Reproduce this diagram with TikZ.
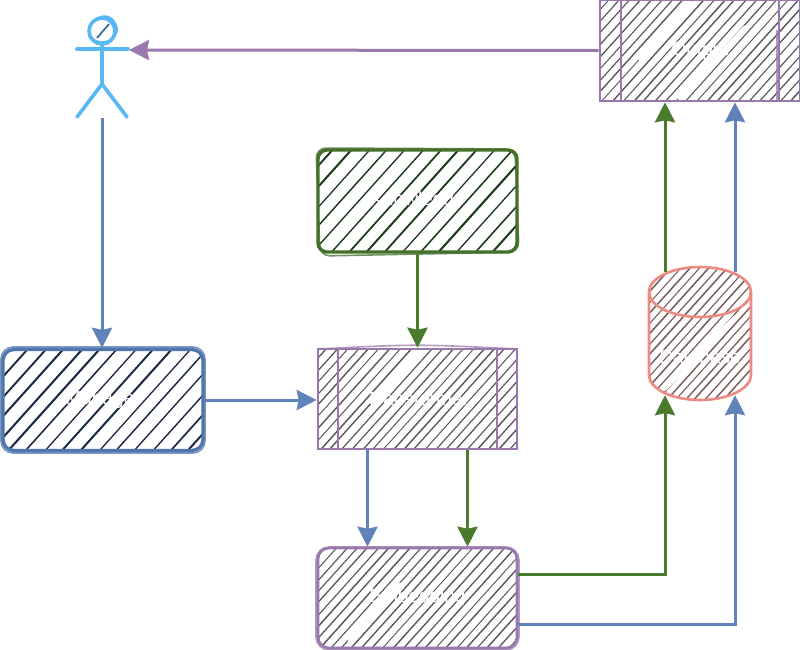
\documentclass[tikz,border=0pt]{standalone}
\usepackage{fontspec}
\setmainfont{Liberation Sans}
\usetikzlibrary{arrows.meta,calc}
\definecolor{cblue}{HTML}{5F83B8}
\definecolor{cblueb}{HTML}{4F75AD}
\definecolor{cgreen}{HTML}{4A7A2C}
\definecolor{cgreenb}{HTML}{44702A}
\definecolor{cpurple}{HTML}{9A78AE}
\definecolor{cred}{HTML}{EE8A84}
\definecolor{cactor}{HTML}{58B8F4}
\definecolor{hblue}{HTML}{1B2A42}
\definecolor{hgreen}{HTML}{1E3A1C}
\definecolor{hpurple}{HTML}{5A5660}
\definecolor{hred}{HTML}{7A5A5A}
\newcommand\hatchlines[3]{%
  \pgfmathsetseed{7}%
  \foreach \k in {0,...,#2}{%
    \pgfmathsetmacro\cc{\k*#3+rnd*1.4-0.7}%
    \pgfmathsetmacro\dd{\cc-584+rnd*1.6-0.8}%
    \pgfmathsetmacro\ww{#1*(0.75+0.5*rnd)}%
    \draw[hatchline,line width=\ww pt] (\cc,0) -- (\dd,649);%
  }%
}
\tikzset{
  x=1pt,y=-1pt,
  hatchline/.style={line cap=round},
  gapband/.style={white,line width=5pt,line cap=round},
  boxlabel/.style={text=white,font=\fontsize{19}{21}\selectfont,inner sep=0pt,align=center},
  bluebox/.style={boxlabel,draw=cblueb,line width=3.4pt,rounded corners=11pt,minimum width=200pt,minimum height=101pt},
  greenbox/.style={boxlabel,draw=cgreenb,line width=3.4pt,rounded corners=9pt,minimum width=199pt,minimum height=102pt},
  purplebox/.style={boxlabel,draw=cpurple,line width=2.6pt,minimum width=199pt,minimum height=100pt},
  purpleround/.style={purplebox,rounded corners=11pt},
  sketch/.style={line width=1.6pt,opacity=.75},
  flow/.style={line width=3pt,-{Stealth[length=20pt,width=20pt,inset=2pt]}},
  flowblue/.style={flow,draw=cblue,color=cblue},
  flowgreen/.style={flow,draw=cgreen,color=cgreen},
  flowpurple/.style={flow,draw=cpurple,color=cpurple},
  actorline/.style={draw=cactor,line width=3.6pt,line cap=round,line join=round},
}
\begin{document}
\begin{tikzpicture}
\useasboundingbox[fill=white] (0,0) rectangle (800,649);
% hatch fills
\begin{scope}\clip[rounded corners=11pt] (3,349) rectangle (203,451);\color{hblue}\hatchlines{1.7}{80}{18}\end{scope}
\begin{scope}\clip[rounded corners=9pt] (318,150) rectangle (517,252);\color{hgreen}\hatchlines{1.7}{80}{18}\end{scope}
\begin{scope}\clip (318,349) rectangle (517,449);\color{hpurple}\hatchlines{1.2}{140}{10.5}
  \draw[gapband] (372,402) -- (418,352) (432,447) -- (476,398);\end{scope}
\begin{scope}\clip[rounded corners=11pt] (318,548) rectangle (517,648);\color{hpurple}\hatchlines{1.2}{140}{10.5}
  \draw[gapband] (350,640) -- (400,585);\end{scope}
\begin{scope}\clip (600,0) rectangle (800,101);\color{hpurple}\hatchlines{1.2}{140}{10.5}
  \draw[gapband] (640,58) -- (690,3) (680,98) -- (745,28);\end{scope}
\begin{scope}\clip (649,292) arc[start angle=180,end angle=360,x radius=51,y radius=25] -- (751,375) arc[start angle=0,end angle=180,x radius=51,y radius=25] -- cycle;
\color{hred}\hatchlines{1.3}{140}{9.5}
  \draw[gapband] (665,388) -- (735,318);\end{scope}
% boxes
\node[bluebox] (mgr) at (103,400) {Manager};
\node[greenbox] (know) at (417.5,201) {Knowledge};
\node[purplebox] (trans) at (417.5,399) {Transformer};
\node[purpleround] (emb) at (417.5,598) {Embedding};
\node[purplebox,minimum width=200pt,minimum height=101pt] (out) at (700,50.5) {Output};
\node[boxlabel,minimum width=102pt,minimum height=128pt] (db) at (700,331) {};
\node[boxlabel] (dblabel) at (700,357) {Database};
% sketch strokes
\draw[cblueb,sketch,rounded corners=12pt] (1,347) rectangle (205,453);
\draw[cgreenb,sketch,rounded corners=10pt] (316,148) -- (515,149) -- (519,252) -- (320,256) -- cycle;
\draw[cpurple,sketch] (318,349) .. controls (417,344) .. (517,349);
\draw[cpurple,sketch,rounded corners=13pt] (316,547) rectangle (519,650);
% inner bars
\draw[cpurple,line width=2.6pt] (338,349) -- (338,449) (497,349) -- (497,449);
\draw[cpurple,line width=2.6pt] (621,0) -- (621,101) (779,0) -- (779,101);
\draw[cpurple,sketch] (777,30) -- (777,101);
% cylinder
\draw[cred,line width=2.6pt] (700,292) ellipse[x radius=51,y radius=25];
\draw[cred,line width=2.6pt] (649,292) -- (649,375) arc[start angle=180,end angle=360,x radius=51,y radius=-25] -- (751,292);
% actor
\node[minimum width=52pt,minimum height=103pt,inner sep=0pt] (actor) at (102,66) {};
\coordinate (hand) at (129,50);
\draw[actorline,fill=white] (102,31) circle[radius=13];
\draw[actorline,line width=2.2pt] (90,25) .. controls (100,12) and (114,14) .. (117,29) .. controls (116,43) and (98,47) .. (89,36) -- cycle;
\draw[hblue!55!cactor,line width=1.7pt] (97,38) -- (109,24);
\draw[actorline] (77,49) -- (128,49);
\draw[actorline] (102,44) -- (102,84) (77,117) -- (102,84) -- (127,117);
% connectors
\draw[flowpurple] (out.west) -- (hand);
\draw[flowblue] (actor.south) -- (actor.south |- mgr.north);
\draw[flowblue] (mgr.east) -- (mgr.east -| trans.west);
\draw[flowgreen] (know.south) -- (trans.north);
\draw[flowblue] ([xshift=-50pt]trans.south) -- ([xshift=-50pt]emb.north);
\draw[flowgreen] ([xshift=50pt]trans.south) -- ([xshift=50pt]emb.north);
\draw[flowgreen] ([yshift=24pt]emb.east) -| ([xshift=-35pt]db.south);
\draw[flowblue] ([yshift=-26pt]emb.east) -| ([xshift=35pt]db.south);
\draw[flowgreen] ([xshift=-35pt,yshift=-5pt]db.north) -- ([xshift=-35pt]out.south);
\draw[flowblue] ([xshift=35pt,yshift=-5pt]db.north) -- ([xshift=35pt]out.south);
\end{tikzpicture}
\end{document}
